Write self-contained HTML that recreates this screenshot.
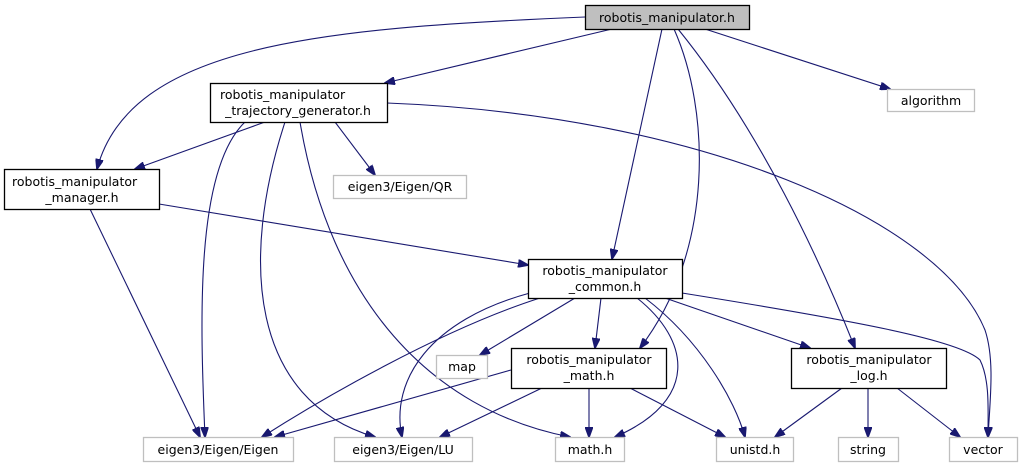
<!DOCTYPE html>
<html><head><meta charset="utf-8"><style>
html,body{margin:0;padding:0;background:#fff;}
svg{display:block;}
text{font-family:"DejaVu Sans","Liberation Sans",sans-serif;font-size:12.5px;fill:#000;}
.n{fill:#fff;stroke:#000;stroke-width:1.3;}
.g{fill:#fff;stroke:#bfbfbf;stroke-width:1.3;}
.e{fill:none;stroke:#191970;stroke-width:1.1;}
</style></head><body>
<svg width="1020" height="469" viewBox="0 0 1020 469" xmlns="http://www.w3.org/2000/svg">
<defs><marker id="a" markerWidth="11" markerHeight="8" refX="10" refY="4" orient="auto" markerUnits="userSpaceOnUse"><path d="M0,0 L11,4 L0,8 Z" fill="#191970" stroke="#191970"/></marker></defs>
<g class="e" marker-end="url(#a)">
<path d="M585,17 C320,28 130,45 97,169"/>
<path d="M612,29 L385,83"/>
<path d="M705,29 L890,89"/>
<path d="M662,29 L612,259"/>
<path d="M674,29 C710,110 715,250 640,348"/>
<path d="M678,29 C760,130 820,260 855,348"/>
<path d="M265,122 L135,169"/>
<path d="M335,122 L375,175"/>
<path d="M387,103 C700,115 940,220 985,330 C995,360 990,400 988,437"/>
<path d="M245,122 C195,170 200,320 205,437"/>
<path d="M285,122 C240,260 250,400 375,437"/>
<path d="M300,122 C330,300 430,410 570,437"/>
<path d="M90,209 L200,437"/>
<path d="M159,204 L528,265"/>
<path d="M575,298 L480,355"/>
<path d="M601,298 L595,348"/>
<path d="M665,298 L810,348"/>
<path d="M682,293 C850,320 960,340 980,360 C990,380 988,410 988,437"/>
<path d="M645,298 C700,340 735,400 745,437"/>
<path d="M637,298 C690,340 700,400 615,437"/>
<path d="M530,293 C430,320 390,380 402,437"/>
<path d="M540,298 C440,330 320,400 262,437"/>
<path d="M511,370 L275,437"/>
<path d="M542,388 L440,437"/>
<path d="M589,388 L589,437"/>
<path d="M630,388 L725,437"/>
<path d="M842,388 L775,437"/>
<path d="M868,388 L868,437"/>
<path d="M897,388 L960,437"/>
</g>
<rect x="585.5" y="5.5" width="164" height="24" fill="#bfbfbf" stroke="#000" stroke-width="1.3"/>
<text x="667" y="22" text-anchor="middle">robotis_manipulator.h</text>
<rect class="n" x="210.5" y="83.5" width="177" height="39"/>
<text x="220" y="99">robotis_manipulator</text><text x="298" y="115" text-anchor="middle">_trajectory_generator.h</text>
<rect class="g" x="887.5" y="89.5" width="87" height="22"/><text x="931" y="105" text-anchor="middle">algorithm</text>
<rect class="n" x="4.5" y="169.5" width="155" height="40"/>
<text x="12" y="186">robotis_manipulator</text><text x="82" y="202" text-anchor="middle">_manager.h</text>
<rect class="g" x="333.5" y="175.5" width="133" height="23"/><text x="400" y="191" text-anchor="middle">eigen3/Eigen/QR</text>
<rect class="n" x="528.5" y="259.5" width="154" height="39"/>
<text x="605" y="275" text-anchor="middle">robotis_manipulator</text><text x="605" y="291" text-anchor="middle">_common.h</text>
<rect class="g" x="436.5" y="355.5" width="51" height="23"/><text x="462" y="371" text-anchor="middle">map</text>
<rect class="n" x="511.5" y="348.5" width="155" height="40"/>
<text x="589" y="364" text-anchor="middle">robotis_manipulator</text><text x="589" y="380" text-anchor="middle">_math.h</text>
<rect class="n" x="791.5" y="348.5" width="155" height="40"/>
<text x="869" y="364" text-anchor="middle">robotis_manipulator</text><text x="869" y="380" text-anchor="middle">_log.h</text>
<rect class="g" x="143.5" y="437.5" width="150" height="24"/><text x="218" y="454" text-anchor="middle">eigen3/Eigen/Eigen</text>
<rect class="g" x="334.5" y="437.5" width="138" height="24"/><text x="403" y="454" text-anchor="middle">eigen3/Eigen/LU</text>
<rect class="g" x="555.5" y="437.5" width="69" height="24"/><text x="590" y="454" text-anchor="middle">math.h</text>
<rect class="g" x="716.5" y="437.5" width="77" height="24"/><text x="755" y="454" text-anchor="middle">unistd.h</text>
<rect class="g" x="838.5" y="437.5" width="60" height="24"/><text x="868" y="454" text-anchor="middle">string</text>
<rect class="g" x="949.5" y="437.5" width="68" height="24"/><text x="983" y="454" text-anchor="middle">vector</text>
</svg>
</body></html>
